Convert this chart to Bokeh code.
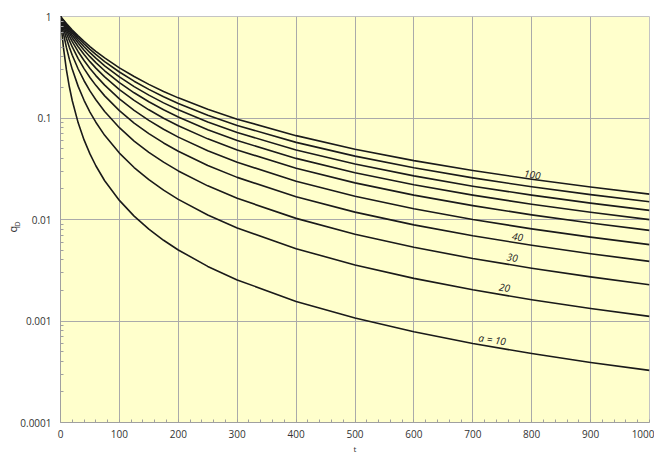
from bokeh.plotting import figure
from bokeh.models import FixedTicker, CustomJSTickFormatter, Range1d, Title
from bokeh.core.properties import value
from bokeh.embed import file_html
from bokeh.resources import INLINE

# time values (x)
t = [0, 1, 2, 5, 10, 15, 20, 30, 40, 50, 60, 75, 100, 125, 150, 175, 200, 250,
     300, 400, 500, 600, 700, 800, 900, 1000]

# q_D for each curve parameter a
q10 = [1, 0.847, 0.728, 0.494, 0.2995, 0.2030, 0.1478, 0.0896, 0.0608, 0.0443, 0.03385, 0.0241,
       0.01542, 0.01079, 0.00803, 0.00624, 0.00501, 0.00345, 0.00254, 0.00156, 0.00107,
       0.000782, 0.000601, 0.000478, 0.000390, 0.000326]
q20 = [1, 0.919, 0.848, 0.680, 0.496, 0.380, 0.3015, 0.2049, 0.1495, 0.1145, 0.0909, 0.0675,
       0.0451, 0.0325, 0.02466, 0.01946, 0.01579, 0.01108, 0.00826, 0.00516, 0.00356,
       0.00263, 0.00203, 0.00162, 0.00133, 0.00111]
q30 = [1, 0.945, 0.895, 0.767, 0.610, 0.498, 0.415, 0.304, 0.2329, 0.185, 0.1511, 0.1159,
       0.0803, 0.0593, 0.0459, 0.0367, 0.0301, 0.02146, 0.01617, 0.01026, 0.00716,
       0.00532, 0.00413, 0.00331, 0.00272, 0.00228]
q40 = [1, 0.959, 0.920, 0.818, 0.684, 0.581, 0.501, 0.385, 0.3067, 0.251, 0.2097, 0.1652,
       0.1181, 0.0892, 0.0702, 0.0568, 0.0471, 0.0341, 0.0260, 0.01676, 0.01182,
       0.00885, 0.00691, 0.00557, 0.00460, 0.00387]
q50 = [1, 0.967, 0.936, 0.851, 0.733, 0.640, 0.5645, 0.450, 0.368, 0.308, 0.2617, 0.2107,
       0.1545, 0.1189, 0.0947, 0.0775, 0.0648, 0.0475, 0.0366, 0.02386, 0.01697,
       0.01278, 0.01001, 0.00809, 0.00670, 0.00565]
q60 = [1, 0.972, 0.946, 0.873, 0.770, 0.686, 0.615, 0.504, 0.4217, 0.359, 0.310, 0.254,
       0.1906, 0.1491, 0.1204, 0.0995, 0.0839, 0.0623, 0.0484, 0.0320, 0.02294,
       0.01738, 0.01369, 0.01111, 0.00923, 0.00781]
q70 = [1, 0.976, 0.953, 0.890, 0.798, 0.720, 0.654, 0.547, 0.4658, 0.402, 0.3513, 0.292,
       0.2233, 0.1771, 0.1444, 0.1204, 0.1021, 0.0766, 0.0600, 0.0400, 0.0289,
       0.0220, 0.01738, 0.01414, 0.01177, 0.00997]
q80 = [1, 0.979, 0.959, 0.903, 0.820, 0.748, 0.686, 0.584, 0.504, 0.440, 0.3884, 0.327,
       0.254, 0.2039, 0.1679, 0.1410, 0.1204, 0.0912, 0.0719, 0.0484, 0.0352,
       0.0269, 0.0213, 0.01738, 0.01449, 0.01229]
q90 = [1, 0.982, 0.964, 0.913, 0.837, 0.771, 0.713, 0.616, 0.538, 0.475, 0.4228, 0.360,
       0.284, 0.2305, 0.1915, 0.1621, 0.1392, 0.1065, 0.0845, 0.0575, 0.0421,
       0.0323, 0.0257, 0.0210, 0.01759, 0.01496]
q100 = [1, 0.983, 0.967, 0.921, 0.852, 0.791, 0.736, 0.644, 0.568, 0.506, 0.454, 0.391,
        0.312, 0.2562, 0.2145, 0.1828, 0.1579, 0.1219, 0.0974, 0.0670, 0.0493,
        0.0380, 0.0304, 0.0249, 0.0209, 0.0178]

series = [q10, q20, q30, q40, q50, q60, q70, q80, q90, q100]

# curve labels
label_text = ["a = 10", "20", "30", "40", "100"]
label_t = [733, 754, 767, 776, 801]
label_q = [0.00066, 0.00215, 0.00425, 0.0068, 0.0279]

# ticks
x_ticks = [0, 100, 200, 300, 400, 500, 600, 700, 800, 900, 1000]
x_minor = list(range(0, 1001, 20))
y_ticks = [0.0001, 0.001, 0.01, 0.1, 1]
y_tick_labels = ["0.0001", "0.001", "0.01", "0.1", "1"]
y_minor = [k * 10.0 ** e for e in (-4, -3, -2, -1) for k in range(2, 10)]

p = figure(width=654, height=457, y_axis_type="log",
           x_range=Range1d(0, 1000), y_range=Range1d(0.0001, 1),
           output_backend="svg", toolbar_location=None,
           min_border_left=60, min_border_right=5, min_border_top=16, min_border_bottom=35)
p.background_fill_color = "#ffffcc"
p.border_fill_color = "white"
p.outline_line_color = "#c4c4c4"

for q in series:
    p.line(t, q, line_color="#1a1a1a", line_width=1.6, line_join="round")

p.text(x=label_t, y=label_q, text=label_text, angle=-0.15,
       text_font=value("Open Sans"), text_font_style="italic", text_font_size="10px",
       text_color="#222222", text_align="center", text_baseline="middle")

p.xaxis.ticker = FixedTicker(ticks=x_ticks, minor_ticks=x_minor)
p.yaxis.ticker = FixedTicker(ticks=y_ticks, minor_ticks=y_minor)
p.yaxis.formatter = CustomJSTickFormatter(code="return tick.toString();")
p.yaxis.major_label_overrides = dict(zip(y_ticks, y_tick_labels))

for ax in (p.xaxis, p.yaxis):
    ax.major_tick_in = 0
    ax.major_tick_out = 0
    ax.minor_tick_in = 3
    ax.minor_tick_out = 0
    ax.minor_tick_line_color = "#a0a0a0"
    ax.axis_line_color = "#a0a0a0"
    ax.major_label_text_font = "Open Sans"
    ax.major_label_text_font_size = "10px"
    ax.major_label_text_color = "#333333"
p.xaxis.major_label_standoff = 7
p.yaxis.major_label_standoff = 9

p.xaxis.axis_label = "t"
p.xaxis.axis_label_text_font = "Open Sans"
p.xaxis.axis_label_text_font_size = "8px"
p.xaxis.axis_label_text_font_style = "normal"
p.xaxis.axis_label_text_color = "#333333"
p.xaxis.axis_label_standoff = 2

p.xgrid.grid_line_color = "#aaaaaa"
p.ygrid.grid_line_color = "#aaaaaa"
p.xgrid.ticker = FixedTicker(ticks=x_ticks)
p.ygrid.ticker = FixedTicker(ticks=y_ticks)

# y axis title q_D built from two side titles (subscript D next to the axis)
p.add_layout(Title(text="D", text_font="Open Sans", text_font_size="7px",
                   text_font_style="normal", text_color="#333333",
                   align="left", offset=196, vertical_align="bottom", standoff=-8), "left")
p.add_layout(Title(text="q", text_font="Open Sans", text_font_size="11px",
                   text_font_style="normal", text_color="#333333",
                   align="left", offset=190, vertical_align="bottom", standoff=-11), "left")

open("out.html", "w").write(file_html(p, INLINE))
